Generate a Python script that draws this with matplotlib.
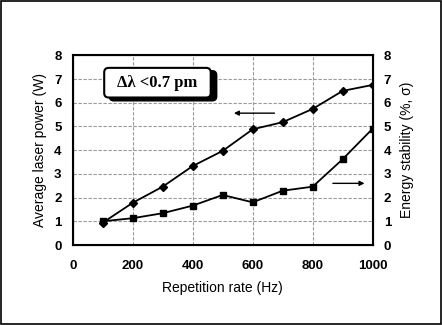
import matplotlib
matplotlib.use("Agg")
import matplotlib.pyplot as plt
from matplotlib.patches import FancyBboxPatch

rate = [100, 200, 300, 400, 500, 600, 700, 800, 900, 1000]
power = [0.94, 1.78, 2.46, 3.33, 3.97, 4.88, 5.18, 5.74, 6.50, 6.75]
stability = [1.0, 1.13, 1.34, 1.66, 2.11, 1.80, 2.29, 2.46, 3.62, 4.91]
xticks = [0, 200, 400, 600, 800, 1000]
yticks = [0, 1, 2, 3, 4, 5, 6, 7, 8]

plt.rcParams['font.family'] = ['Liberation Sans', 'DejaVu Sans']

fig = plt.figure(figsize=(4.42, 3.25), dpi=100)
ax = fig.add_axes([72.7/442, 1 - 245/325, 300/442, (245-55.3)/325])

ax.plot(rate, power, color='black', lw=1.3, marker='D', ms=4.5, zorder=3)
ax.set_xlim(0, 1000)
ax.set_ylim(0, 8)
ax.set_xticks(xticks)
ax.set_yticks(yticks)
ax.grid(True, color='#999999', ls=(0, (3, 1.5)), lw=0.8)
ax.tick_params(axis='y', length=0, labelsize=9.5, pad=8)
ax.tick_params(axis='x', length=0, labelsize=9.5, pad=11)
for lab in ax.get_xticklabels() + ax.get_yticklabels():
    lab.set_fontweight('bold')
for s in ax.spines.values():
    s.set_linewidth(1.5)
ax.set_xlabel('Repetition rate (Hz)', fontsize=10, labelpad=6)
ax.set_ylabel('Average laser power (W)', fontsize=10, labelpad=5)

ax2 = ax.twinx()
ax2.plot(rate, stability, color='black', lw=1.3, marker='s', ms=5, zorder=3)
ax2.set_ylim(0, 8)
ax2.set_yticks(yticks)
ax2.tick_params(length=0, labelsize=9.5, pad=8)
for lab in ax2.get_yticklabels():
    lab.set_fontweight('bold')
ax2.set_ylabel('Energy stability (%, σ)', fontsize=10, labelpad=6)

# arrows
ax.annotate('', xy=(528, 5.56), xytext=(682, 5.56),
            arrowprops=dict(arrowstyle='-|>', color='black', lw=1.0, mutation_scale=7))
ax.annotate('', xy=(982, 2.6), xytext=(858, 2.6),
            arrowprops=dict(arrowstyle='-|>', color='black', lw=1.0, mutation_scale=7))

# text box with shadow
asp = 8/1000*300/190
shadow = FancyBboxPatch((122, 6.08), 358, 1.27, boxstyle='round,pad=0,rounding_size=15',
                        facecolor='black', edgecolor='black', transform=ax.transData,
                        mutation_aspect=asp, zorder=4)
ax.add_patch(shadow)
box = FancyBboxPatch((105, 6.22), 355, 1.25, boxstyle='round,pad=0,rounding_size=15',
                     facecolor='white', edgecolor='black', lw=1.5, transform=ax.transData,
                     mutation_aspect=asp, zorder=5)
ax.add_patch(box)
ax.text(283, 6.85, 'Δλ <0.7 pm', fontsize=12, fontweight='bold',
        family=['Liberation Serif', 'DejaVu Serif'], ha='center', va='center', zorder=6)

fig.patches.append(plt.Rectangle((0.002, 0.003), 0.996, 0.994, transform=fig.transFigure,
                                 fill=False, edgecolor='black', lw=1.2))
fig.savefig('out.png', dpi=100)
